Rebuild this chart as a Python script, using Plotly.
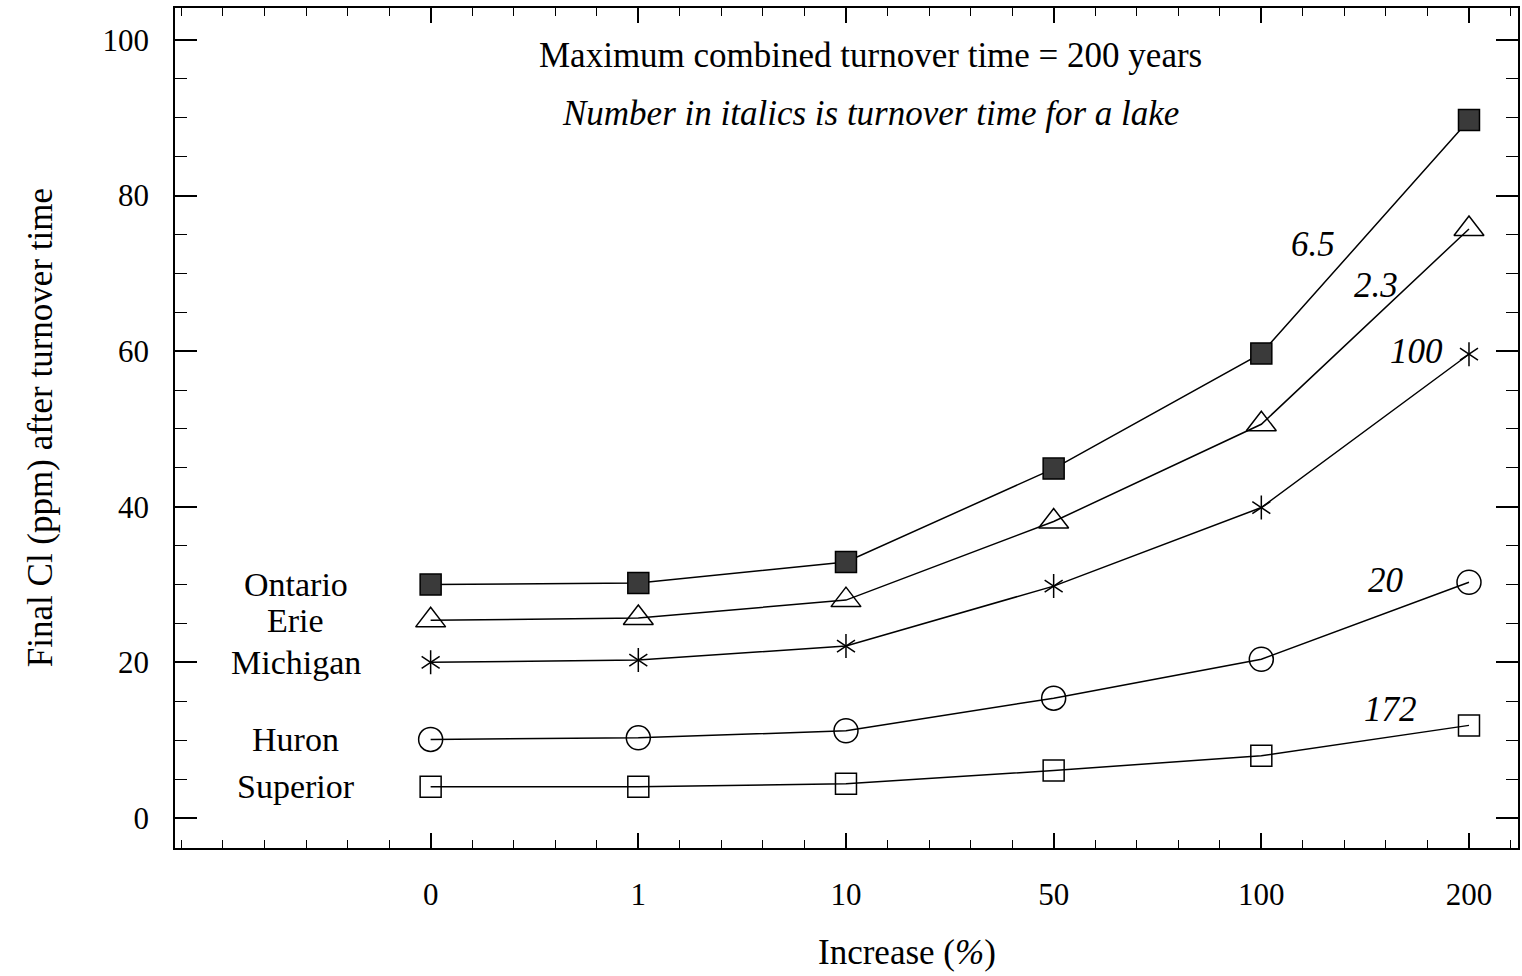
import plotly.graph_objects as go

# ---- data ----
increase_labels = ["0", "1", "10", "50", "100", "200"]
lakes = ["Ontario", "Erie", "Michigan", "Huron", "Superior"]
ontario = [30.0, 30.2, 32.9, 44.9, 59.7, 89.7]
erie = [25.4, 25.7, 28.0, 38.1, 50.6, 75.7]
michigan = [20.0, 20.3, 22.1, 29.8, 39.9, 59.6]
huron = [10.1, 10.3, 11.2, 15.4, 20.4, 30.3]
superior = [4.0, 4.0, 4.4, 6.1, 8.0, 11.9]
turnover_times = ["6.5", "2.3", "100", "20", "172"]
y_ticks = [0, 20, 40, 60, 80, 100]

series = [ontario, erie, michigan, huron, superior]
xs = list(range(len(increase_labels)))

FONT = "Liberation Serif"
BLACK = "#000000"

fig = go.Figure()

styles = [
    dict(symbol="square", size=21, color="#3a3a3a", line=dict(color=BLACK, width=1.5)),
    dict(symbol="triangle-up-open", size=26, color=BLACK, line=dict(color=BLACK, width=1.5)),
    dict(symbol="y-up-open", size=15, color=BLACK, line=dict(color=BLACK, width=1.5)),
    dict(symbol="circle-open", size=24, color=BLACK, line=dict(color=BLACK, width=1.5)),
    dict(symbol="square-open", size=21, color=BLACK, line=dict(color=BLACK, width=1.5)),
]

for name, vals, st in zip(lakes, series, styles):
    fig.add_trace(go.Scatter(
        x=xs, y=vals, mode="lines+markers", name=name,
        line=dict(color=BLACK, width=1.5),
        marker=st, showlegend=False,
    ))

# second half of the Michigan asterisk
fig.add_trace(go.Scatter(
    x=xs, y=michigan, mode="markers", showlegend=False,
    marker=dict(symbol="y-down-open", size=15, color=BLACK, line=dict(color=BLACK, width=1.5)),
))

annotations = []
# lake labels on the left
for name, vals in zip(lakes, series):
    annotations.append(dict(
        x=-0.65, y=vals[0], xref="x", yref="y", text=name, showarrow=False,
        font=dict(family=FONT, size=34, color=BLACK), xanchor="center", yanchor="middle",
    ))

# italic turnover times
label_pos = [(4.25, 73.7), (4.553, 68.4), (4.745, 59.9), (4.60, 30.5), (4.62, 13.9)]
for t, (lx, ly) in zip(turnover_times, label_pos):
    annotations.append(dict(
        x=lx, y=ly, xref="x", yref="y", text=f"<i>{t}</i>", showarrow=False,
        font=dict(family=FONT, size=35, color=BLACK), xanchor="center", yanchor="middle",
    ))

annotations += [
    dict(x=0.5175, y=0.943, xref="paper", yref="paper",
         text="Maximum combined turnover time = 200 years", showarrow=False,
         font=dict(family=FONT, size=35, color=BLACK), xanchor="center", yanchor="middle"),
    dict(x=0.5175, y=0.874, xref="paper", yref="paper",
         text="<i>Number in italics is turnover time for a lake</i>", showarrow=False,
         font=dict(family=FONT, size=35, color=BLACK), xanchor="center", yanchor="middle"),
    dict(x=-0.1004, y=0.5, xref="paper", yref="paper", textangle=-90,
         text="Final Cl (ppm) after turnover time", showarrow=False,
         font=dict(family=FONT, size=35, color=BLACK), xanchor="center", yanchor="middle"),
    dict(x=0.545, y=-0.124, xref="paper", yref="paper",
         text="Increase (<i>%</i>)", showarrow=False,
         font=dict(family=FONT, size=35, color=BLACK), xanchor="center", yanchor="middle"),
]

fig.update_layout(
    width=1522, height=976,
    margin=dict(l=175, r=2, t=8, b=128),
    paper_bgcolor="white", plot_bgcolor="white",
    annotations=annotations,
    font=dict(family=FONT, color=BLACK),
)

fig.update_xaxes(
    range=[-1.231, 5.236],
    tickmode="array", tickvals=xs, ticktext=increase_labels,
    ticks="inside", ticklen=15, tickwidth=1.5, tickcolor=BLACK,
    minor=dict(tickmode="linear", tick0=0, dtick=0.2, ticks="inside", ticklen=8,
               tickwidth=1.2, tickcolor=BLACK, showgrid=False),
    showline=True, linecolor=BLACK, linewidth=1.8, mirror="allticks",
    showgrid=False, zeroline=False,
    tickfont=dict(family=FONT, size=31, color=BLACK),
    ticklabelstandoff=18,
)
fig.update_yaxes(
    range=[-3.86, 104.1],
    tickmode="array", tickvals=y_ticks,
    ticks="inside", ticklen=22, tickwidth=1.5, tickcolor=BLACK,
    minor=dict(tickmode="linear", tick0=0, dtick=5, ticks="inside", ticklen=12,
               tickwidth=1.2, tickcolor=BLACK, showgrid=False),
    showline=True, linecolor=BLACK, linewidth=1.8, mirror="allticks",
    showgrid=False, zeroline=False,
    tickfont=dict(family=FONT, size=31, color=BLACK),
    ticklabelstandoff=18,
)

fig.write_html("out.html")
